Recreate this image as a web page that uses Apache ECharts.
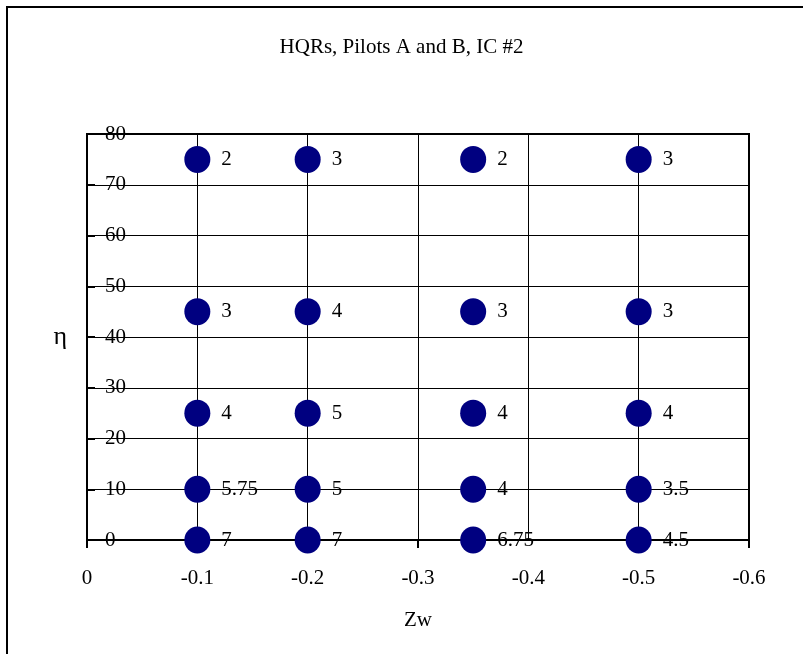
<!DOCTYPE html>
<html style="height: 100%">
<head>
    <meta charset="utf-8">
    <script src="https://cdn.jsdelivr.net/npm/echarts@6/dist/echarts.min.js"></script>
    <title>HQRs</title>
</head>
<body style="height: 100%; margin: 0; background: #fff">
<div id="container" style="height: 654px; width: 803px"></div>

<script type="text/javascript">
    // Zw positions of the four columns
    var zwValues = [-0.1, -0.2, -0.35, -0.5];
    // eta levels (rows)
    var etaValues = [0, 10, 25, 45, 75];
    // HQR labels, one row per eta level (same order as etaValues), columns follow zwValues
    var hqrLabels = [
        ['7', '7', '6.75', '4.5'],
        ['5.75', '5', '4', '3.5'],
        ['4', '5', '4', '4'],
        ['3', '4', '3', '3'],
        ['2', '3', '2', '3']
    ];

    var points = [];
    for (var r = 0; r < etaValues.length; r++) {
        for (var c = 0; c < zwValues.length; c++) {
            points.push({ value: [zwValues[c], etaValues[r]], label: { formatter: hqrLabels[r][c] } });
        }
    }

    var dom = document.getElementById('container');
    var myChart = echarts.init(dom, null, { renderer: 'canvas' });

    var font = 'Liberation Serif';
    var fs = 21;

    var option = {
        backgroundColor: '#ffffff',
        animation: false,
        textStyle: { fontFamily: font },
        title: {
            text: 'HQRs, Pilots A and B, IC #2',
            left: 'center',
            top: 32,
            textStyle: { fontFamily: font, fontSize: fs, fontWeight: 'normal', color: '#000' }
        },
        graphic: [{
            type: 'rect',
            shape: { x: 7, y: 7, width: 900, height: 800 },
            style: { fill: null, stroke: '#000', lineWidth: 2 }
        }],
        grid: {
            left: 87, right: 54, top: 134, bottom: 114,
            show: true,
            borderColor: '#000',
            borderWidth: 2
        },
        xAxis: [{
            type: 'value',
            min: -0.6, max: 0, interval: 0.1,
            inverse: true,
            name: 'Zw',
            nameLocation: 'middle',
            nameGap: 70,
            nameTextStyle: { fontFamily: font, fontSize: fs, color: '#000' },
            axisLine: { show: true, onZero: false, lineStyle: { color: '#000', width: 2 } },
            axisTick: { show: false },
            axisLabel: { margin: 28, fontFamily: font, fontSize: fs, color: '#000' },
            splitLine: { show: true, lineStyle: { color: '#000', width: 1 } }
        }, {
            type: 'value',
            min: -0.6, max: 0, interval: 0.3,
            inverse: true,
            position: 'bottom',
            axisLine: { show: false },
            axisTick: { show: true, length: 8, lineStyle: { color: '#000', width: 2 } },
            axisLabel: { show: false },
            splitLine: { show: false }
        }],
        yAxis: {
            type: 'value',
            min: 0, max: 80, interval: 10,
            name: 'η',
            nameLocation: 'middle',
            nameGap: 20,
            nameRotate: 0,
            nameTextStyle: { fontFamily: font, fontSize: 26, color: '#000' },
            axisLine: { show: true, onZero: false, lineStyle: { color: '#000', width: 2 } },
            axisTick: { show: true, inside: true, length: 8, lineStyle: { color: '#000', width: 2 } },
            axisLabel: { inside: true, margin: 18, fontFamily: font, fontSize: fs, color: '#000', padding: [6, 0, 0, 0] },
            splitLine: { show: true, lineStyle: { color: '#000', width: 1 } }
        },
        series: [{
            type: 'scatter',
            xAxisIndex: 0,
            symbol: 'circle',
            symbolSize: [26, 27],
            itemStyle: { color: '#000080', opacity: 1 },
            label: {
                show: true,
                position: 'right',
                distance: 11,
                fontFamily: font,
                fontSize: fs,
                color: '#000',
                padding: [5, 0, 0, 0]
            },
            data: points
        }]
    };

    myChart.setOption(option);
    window.addEventListener('resize', myChart.resize);
</script>
</body>
</html>
